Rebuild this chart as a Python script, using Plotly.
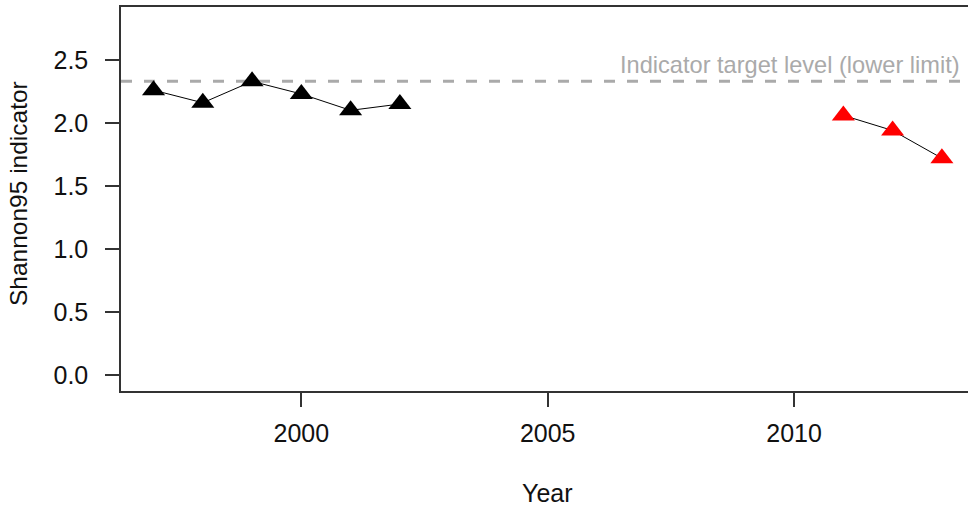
import plotly.graph_objects as go

# Data
years_early = [1997, 1998, 1999, 2000, 2001, 2002]
shannon_early = [2.26, 2.16, 2.33, 2.23, 2.10, 2.15]
years_late = [2011, 2012, 2013]
shannon_late = [2.06, 1.94, 1.72]
target_level = 2.33
target_label = "Indicator target level (lower limit)"
x_ticks = [2000, 2005, 2010]
y_ticks = [0.0, 0.5, 1.0, 1.5, 2.0, 2.5]
y_tick_labels = ["0.0", "0.5", "1.0", "1.5", "2.0", "2.5"]

FONT = "Liberation Sans, Arial, sans-serif"
AX = "#333333"

fig = go.Figure()
fig.add_trace(go.Scatter(
    x=years_early, y=shannon_early, mode="lines+markers",
    line=dict(color="black", width=1),
    marker=dict(symbol="triangle-up", size=20, color="black"),
    showlegend=False, hoverinfo="skip"))
fig.add_trace(go.Scatter(
    x=years_late, y=shannon_late, mode="lines+markers",
    line=dict(color="black", width=1),
    marker=dict(symbol="triangle-up", size=20, color="#ff0000"),
    showlegend=False, hoverinfo="skip"))

fig.add_shape(type="line", xref="paper", x0=0, x1=1, yref="y",
              y0=target_level, y1=target_level,
              line=dict(color="#aaaaaa", width=3, dash="11px,12px"), layer="below")

W, H = 968, 506
L, R, T, B = 121, 0, 7, 115
pw = W - L - R
ph = H - T - B

fig.add_annotation(text=target_label, xref="paper", x=(962 - L) / pw, xanchor="right",
                   yref="y", y=target_level, yanchor="bottom", yshift=1,
                   showarrow=False, font=dict(family=FONT, size=23.6, color="#aaaaaa"))
fig.add_annotation(text="Year", xref="paper", x=(547 - L) / pw, xanchor="center",
                   yref="paper", y=(T + ph - 493) / ph, yanchor="middle",
                   showarrow=False, font=dict(family=FONT, size=25, color="#111111"))
fig.add_annotation(text="Shannon95 indicator", xref="paper", x=(18 - L) / pw, xanchor="center",
                   yref="paper", y=(T + ph - 194) / ph, yanchor="middle", textangle=-90,
                   showarrow=False, font=dict(family=FONT, size=24.5, color="#111111"))

fig.update_layout(
    width=W, height=H,
    margin=dict(l=L, r=R, t=T, b=B, pad=0),
    plot_bgcolor="white", paper_bgcolor="white",
    font=dict(family=FONT, size=25, color="#111111"),
    xaxis=dict(range=[1996.34, 2013.53], tickmode="array", tickvals=x_ticks,
               ticks="outside", ticklen=14, tickwidth=1.5, tickcolor=AX,
               showline=True, linecolor=AX, linewidth=1.5, mirror=True,
               showgrid=False, zeroline=False, ticklabelstandoff=5),
    yaxis=dict(range=[-0.127, 2.92], tickmode="array", tickvals=y_ticks,
               ticktext=y_tick_labels,
               ticks="outside", ticklen=14, tickwidth=1.5, tickcolor=AX,
               showline=True, linecolor=AX, linewidth=1.5,
               showgrid=False, zeroline=False, ticklabelstandoff=12),
)

fig.write_html("out.html", config={"displayModeBar": False},
               post_script="document.body.style.margin='0';document.body.style.overflow='hidden';")
